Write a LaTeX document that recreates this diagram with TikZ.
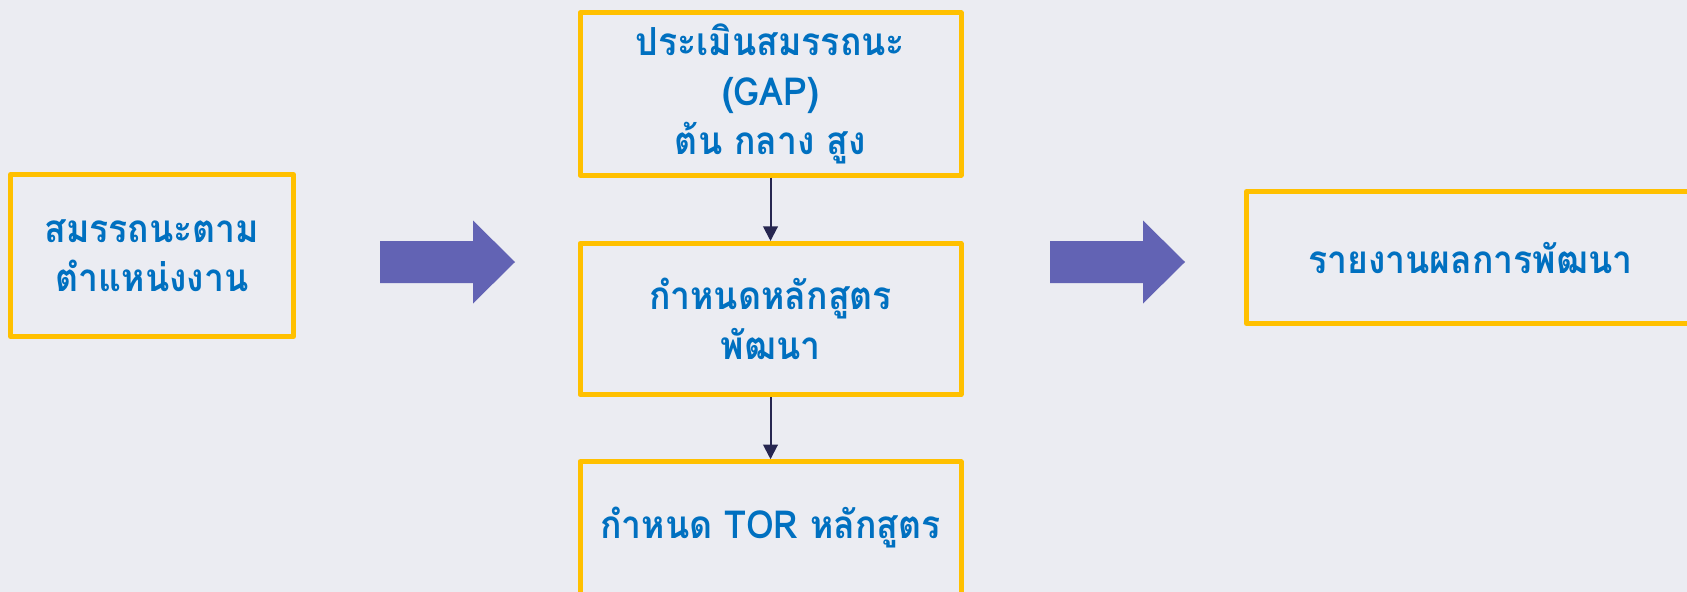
\documentclass[tikz,border=0pt]{standalone}
\usepackage{fontspec}
\usetikzlibrary{arrows.meta}
\newfontfamily\thaifont[Script=Thai,FakeStretch=0.92]{Loma}
\definecolor{ColBack}{RGB}{235,236,242}
\definecolor{ColFrame}{RGB}{255,192,0}
\definecolor{ColText}{RGB}{0,112,192}
\definecolor{ColBig}{RGB}{98,99,180}
\definecolor{ColEdge}{RGB}{38,38,80}
\tikzstyle{StepBox}=[rectangle,draw=ColFrame,line width=3.75pt,line join=round,text=ColText,
align=center,inner sep=2pt,font=\thaifont\bfseries\fontsize{29}{37}\selectfont]
\tikzstyle{EdgeStep}=[ColEdge,line width=1.5pt,-{Triangle[length=11pt,width=11pt]}]
\tikzstyle{BigArrow}=[fill=ColBig]

\begin{document}
\begin{tikzpicture}[x=0.75pt,y=-0.75pt]
        \fill[ColBack](0,0)rectangle(1687,592);
        \useasboundingbox(0,0)rectangle(1687,592);
        \node[StepBox,minimum width=212.25pt,minimum height=121.5pt](job)at(152,255.5){สมรรถนะตาม\\ตำแหน่งงาน};
        \node[StepBox,minimum width=285.75pt,minimum height=121.5pt](gap)at(770.5,94){ประเมินสมรรถนะ\\(GAP)\\ต้น กลาง สูง};
        \node[StepBox,minimum width=285.75pt,minimum height=113.25pt](course)at(770.5,319){กำหนดหลักสูตร\\พัฒนา};
        \node[StepBox,minimum width=285.75pt,minimum height=99.4pt](tor)at(770.5,528){กำหนด TOR หลักสูตร};
        \node[StepBox,minimum width=336pt,minimum height=99pt](report)at(1470.5,257.5){รายงานผลการพัฒนา};
        \draw[EdgeStep](gap)--(course);
        \draw[EdgeStep](course)--(tor);
        \fill[BigArrow,shift={(380,262)}](0,-21)--(93,-21)--(93,-41.5)--(135,0)--(93,41.5)--(93,21)--(0,21)--cycle;
        \fill[BigArrow,shift={(1050,262)}](0,-21)--(93,-21)--(93,-41.5)--(135,0)--(93,41.5)--(93,21)--(0,21)--cycle;
    \end{tikzpicture}
\end{document}
